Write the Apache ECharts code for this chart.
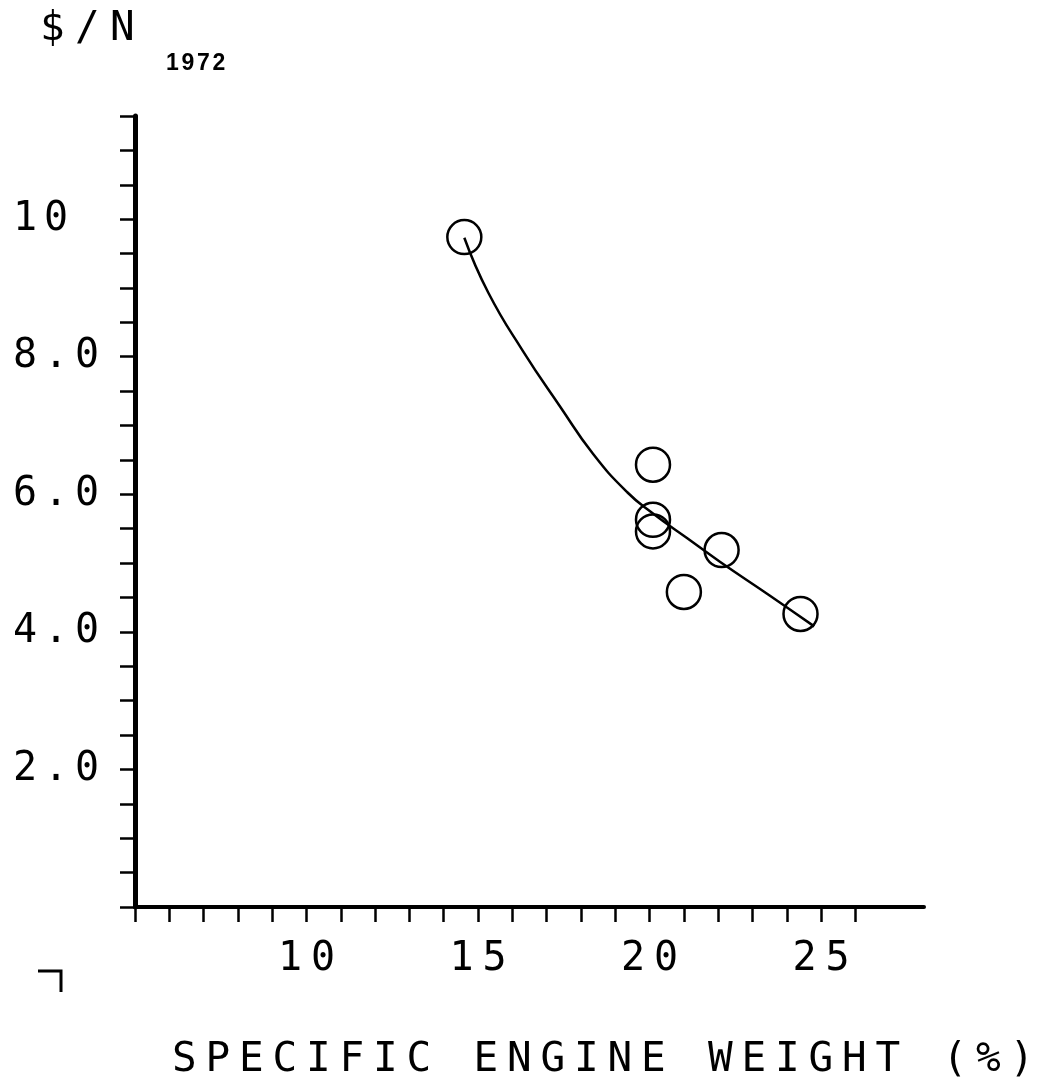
<!DOCTYPE html>
<html>
<head>
<meta charset="utf-8">
<script src="https://cdn.jsdelivr.net/npm/echarts@6/dist/echarts.min.js"></script>
<style>
  html, body { margin: 0; padding: 0; background: #fff; }
  #chart { width: 1051px; height: 1092px; }
</style>
</head>
<body>
<div id="chart"></div>
<script>
  // measured points (specific engine weight %, $/N 1972)
  const engineWeight = [14.6, 20.1, 20.1, 20.1, 22.1, 21.0, 24.4];
  const costPerN = [9.74, 6.43, 5.63, 5.46, 5.19, 4.58, 4.26];

  // faired curve
  const fitWeight = [14.6, 15.3, 16.3, 17.4, 18.35, 19.35, 20.1, 21.1, 22.05, 23.5, 24.8];
  const fitCost = [9.73, 8.93, 8.09, 7.27, 6.59, 6.03, 5.72, 5.36, 5.02, 4.53, 4.08];

  // axis labels / ticks
  const xLabelValues = [10, 15, 20, 25];
  const xTickValues = [5, 6, 7, 8, 9, 10, 11, 12, 13, 14, 15, 16, 17, 18, 19, 20, 21, 22, 23, 24, 25, 26];
  const yLabelValues = [2, 4, 6, 8, 10];

  const plotFont = 'DejaVu Sans Mono';

  // plotter lettering is widely spaced: put every char in its own fixed-width cell
  function spaced(str, key) {
    return str.split('').map(function (ch) { return '{' + key + '|' + ch + '}'; }).join('');
  }

  const points = engineWeight.map(function (x, i) { return [x, costPerN[i]]; });
  const curve = fitWeight.map(function (x, i) { return [x, fitCost[i]]; });

  const chart = echarts.init(document.getElementById('chart'));
  const option = {
    backgroundColor: '#fff',
    animation: false,
    title: [
      {
        text: spaced('$/N', 't'),
        left: 40, top: 9, padding: 0,
        textStyle: { rich: { t: { fontFamily: plotFont, fontWeight: 'normal', fontSize: 41, lineHeight: 41, width: 35, color: '#000' } } }
      },
      {
        text: spaced('1972', 'y'),
        left: 166, top: 52, padding: 0,
        textStyle: { rich: { y: { fontFamily: 'Liberation Sans', fontWeight: 'bold', fontSize: 23, lineHeight: 24, width: 15.5, color: '#000' } } }
      },
      {
        text: spaced('SPECIFIC ENGINE WEIGHT (%)', 'n'),
        left: 172, top: 1040, padding: 0,
        textStyle: { rich: { n: { fontFamily: plotFont, fontWeight: 'normal', fontSize: 41, lineHeight: 41, width: 33.5, color: '#000' } } }
      }
    ],
    grid: { left: 135, right: 127, top: 116, bottom: 185 },
    xAxis: {
      type: 'value',
      min: 5, max: 28, interval: 1,
      splitLine: { show: false },
      axisLine: { lineStyle: { color: '#000', width: 4 } },
      axisTick: { length: 15, lineStyle: { color: '#000', width: 2.5 }, customValues: xTickValues },
      axisLabel: {
        customValues: xLabelValues,
        margin: 33,
        formatter: function (v) { return spaced(String(v), 'd'); },
        rich: { d: { fontFamily: plotFont, fontSize: 40, lineHeight: 40, width: 33, color: '#000' } }
      }
    },
    yAxis: {
      type: 'value',
      min: 0, max: 11.5, interval: 0.5,
      splitLine: { show: false },
      axisLine: { lineStyle: { color: '#000', width: 5 } },
      axisTick: { length: 15, lineStyle: { color: '#000', width: 2.5 } },
      axisLabel: {
        customValues: yLabelValues,
        margin: 122,
        align: 'left',
        formatter: function (v) { return spaced(v >= 10 ? String(v) : v.toFixed(1), 'd'); },
        rich: { d: { fontFamily: plotFont, fontSize: 40, lineHeight: 40, width: 31, color: '#000' } }
      }
    },
    graphic: [
      {
        type: 'polyline',
        shape: { points: [[38, 971], [61, 971], [61, 992]] },
        style: { stroke: '#000', lineWidth: 3, fill: null }
      }
    ],
    series: [
      {
        type: 'line',
        data: curve,
        smooth: 0.5,
        showSymbol: false,
        lineStyle: { color: '#000', width: 2.5 },
        z: 2
      },
      {
        type: 'scatter',
        data: points,
        symbol: 'circle',
        symbolSize: 34,
        itemStyle: { color: 'rgba(0,0,0,0)', borderColor: '#000', borderWidth: 2.5, opacity: 1 },
        z: 3
      }
    ]
  };
  chart.setOption(option);
  window.addEventListener('resize', function () { chart.resize(); });
</script>
</body>
</html>
